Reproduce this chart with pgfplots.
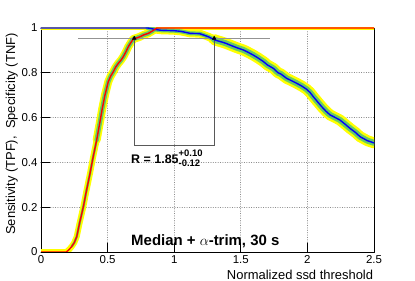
\documentclass[border=0pt]{standalone}
\usepackage{fontspec}
\setmainfont{Liberation Sans}
\usepackage{pgfplots}
\usepackage{pgfplotstable}
\pgfplotsset{compat=1.18}
\definecolor{bandgreen}{RGB}{102,204,102}
\definecolor{bandyellow}{RGB}{255,255,0}
\pgfplotstableread{
x y
0 0
0.19 0
0.21 0.01
0.23 0.024
0.25 0.042
0.268 0.068
0.29 0.13
0.318 0.202
0.34 0.27
0.368 0.351
0.39 0.42
0.418 0.50
0.443 0.582
0.46 0.64
0.48 0.70
0.505 0.76
0.523 0.785
0.543 0.805
0.56 0.825
0.58 0.842
0.60 0.856
0.618 0.872
0.636 0.892
0.656 0.917
0.675 0.935
0.693 0.951
0.72 0.956
0.743 0.961
0.77 0.969
0.806 0.976
0.84 0.988
0.87 1.0
2.5 1.0
}\redtab
\pgfplotstableread{
x y
0 1
0.80 1
0.83 0.997
0.86 0.993
0.90 0.99
1.00 0.988
1.05 0.985
1.09 0.980
1.12 0.976
1.19 0.975
1.22 0.969
1.26 0.960
1.30 0.948
1.33 0.942
1.36 0.937
1.39 0.931
1.419 0.924
1.47 0.912
1.519 0.902
1.55 0.893
1.594 0.879
1.63 0.866
1.67 0.850
1.70 0.835
1.744 0.820
1.78 0.800
1.80 0.795
1.845 0.775
1.88 0.765
1.92 0.753
1.96 0.740
1.995 0.726
2.02 0.712
2.045 0.693
2.07 0.675
2.107 0.649
2.14 0.628
2.17 0.612
2.21 0.600
2.245 0.589
2.28 0.572
2.32 0.552
2.36 0.534
2.395 0.515
2.45 0.497
2.5 0.487
}\bluetab
\begin{document}
\begin{tikzpicture}
\begin{axis}[name=ax, scale only axis, width=333bp, height=224bp,
  xmin=0, xmax=2.5, ymin=0, ymax=1,
  xtick={0,0.5,1,1.5,2,2.5}, ytick={0,0.2,0.4,0.6,0.8,1},
  xticklabels={0,0.5,1,1.5,2,2.5}, yticklabels={0,0.2,0.4,0.6,0.8,1},
  tick pos=left, tick align=inside, major tick length=9bp,
  tick style={black, line width=0.7bp},
  tick label style={font=\fontsize{11.5}{13}\selectfont},
  /pgf/number format/assume math mode=true,
  grid=major, major grid style={dotted, black!45, line width=0.7bp},
  axis line style={black, line width=0.8bp},
  clip mode=individual,
  line join=round, line cap=round]
% yellow bands
\addplot[bandyellow, line width=5bp, restrict x to domain=0:0.81] table[x=x,y=y] {\bluetab};
\addplot[bandyellow, line width=8bp, restrict x to domain=0.79:1.31] table[x=x,y=y] {\bluetab};
\addplot[bandyellow, line width=11bp, restrict x to domain=1.29:2.5] table[x=x,y=y] {\bluetab};
\addplot[bandyellow, line width=5bp, restrict x to domain=0:0.2] table[x=x,y=y] {\redtab};
\addplot[bandyellow, line width=6bp, restrict x to domain=0.18:0.43] table[x=x,y=y] {\redtab};
\addplot[bandyellow, line width=8bp, restrict x to domain=0.41:0.88] table[x=x,y=y] {\redtab};
\addplot[bandyellow, line width=5bp, restrict x to domain=0.86:2.5] table[x=x,y=y] {\redtab};
% green bands
\addplot[bandgreen, line width=4bp, restrict x to domain=0.79:1.31] table[x=x,y=y] {\bluetab};
\addplot[bandgreen, line width=6bp, restrict x to domain=1.29:2.5] table[x=x,y=y] {\bluetab};
\addplot[bandgreen, line width=2.5bp, restrict x to domain=0.22:0.43] table[x=x,y=y] {\redtab};
\addplot[bandgreen, line width=4.5bp, restrict x to domain=0.41:0.86] table[x=x,y=y] {\redtab};
% gray marker lines
\addplot[gray!85, line width=1.3bp, line cap=butt] coordinates {(0.28,0.954) (1.72,0.954)};
\addplot[black!65, line width=0.9bp, line cap=butt, line join=miter] coordinates {(0.70,0.954) (0.70,0.475) (1.30,0.475) (1.30,0.954)};
% curves
\addplot[blue, line width=1.4bp, clip=false] table[x=x,y=y] {\bluetab};
\addplot[red, line width=1.4bp, clip=false, line cap=butt, restrict x to domain=0.3:2.5] table[x=x,y=y] {\redtab};
\addplot[red, line width=1.4bp, restrict x to domain=0:0.32] table[x=x,y=y] {\redtab};
\addplot[only marks, mark=triangle*, mark size=2.2bp, black] coordinates {(0.70,0.954) (1.30,0.954)};
% texts
\node[anchor=base west, inner sep=0, font=\bfseries\fontsize{12.5}{15}\selectfont] at (axis cs:0.676,0.396)
  {R = 1.85\fontsize{9.5}{11}\selectfont\rlap{\raisebox{6.6bp}{+0.10}}\raisebox{-3.4bp}{-0.12}};
\node[anchor=base west, inner sep=0, font=\bfseries\fontsize{15}{18}\selectfont] at (axis cs:0.676,0.027)
  {Median + $\alpha$-trim, 30 s};
\end{axis}
\node[rotate=90, anchor=base east, inner sep=0, font=\fontsize{13}{15}\selectfont] at ([shift={(-26bp,-5bp)}]ax.north west)
  {Sensitivity (TPF),\ \ Specificity (TNF)};
\node[anchor=base east, inner sep=0, font=\fontsize{13}{15}\selectfont] at ([shift={(-0.7bp,-27.3bp)}]ax.south east)
  {Normalized ssd threshold};
\pgfresetboundingbox
\path[use as bounding box] ([shift={(-41bp,-29bp)}]ax.south west) rectangle ([shift={(41bp,28bp)}]ax.north east);
\end{tikzpicture}
\end{document}
